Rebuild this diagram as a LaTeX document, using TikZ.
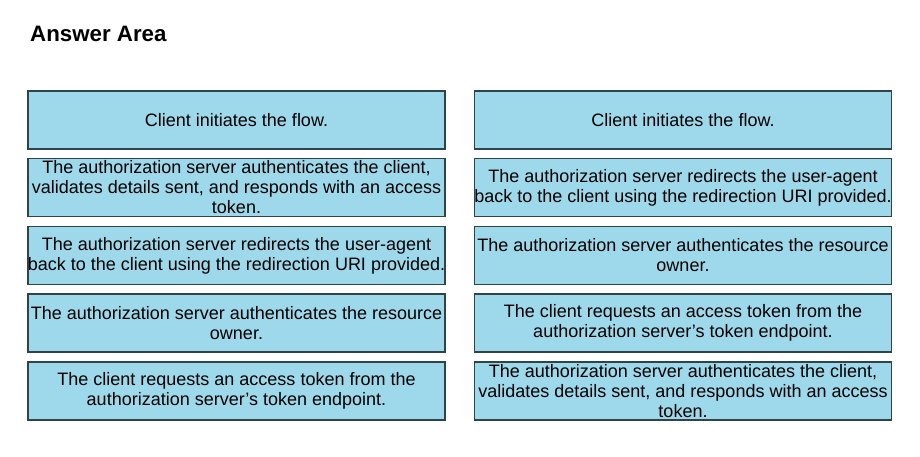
\documentclass[tikz,border=0pt]{standalone}
\usepackage{fontspec}
\setmainfont{Liberation Sans}
\definecolor{boxfill}{HTML}{9DD9EA}
\definecolor{boxline}{HTML}{2E4448}
\tikzset{
  answerbox/.style={rectangle,draw=boxline,line width=1.3pt,fill=boxfill,
    minimum width=417pt,minimum height=58pt,inner sep=0pt,align=center,
    font=\fontsize{18}{20}\selectfont},
}
\begin{document}
\begin{tikzpicture}[x=1pt,y=-1pt]
		\useasboundingbox (0,0) rectangle (920,457);
		% Titel
		\node (title) at (30,42) [anchor=base west,inner sep=0pt,font=\fontsize{22.3}{26}\selectfont\bfseries] {Answer Area};

		% linke Spalte
		\node (L1) at (236.5,120) [answerbox] {Client initiates the flow.};
		\node (L2) at (236.5,187.5) [answerbox] {The authorization server authenticates the client,\\validates details sent, and responds with an access\\token.};
		\node (L3) at (236.5,255.5) [answerbox] {The authorization server redirects the user-agent\\back to the client using the redirection URI provided.};
		\node (L4) at (236.5,323) [answerbox] {The authorization server authenticates the resource\\owner.};
		\node (L5) at (236.5,391) [answerbox] {The client requests an access token from the\\authorization server’s token endpoint.};

		% rechte Spalte
		\node (R1) at (683,120) [answerbox] {Client initiates the flow.};
		\node (R2) at (683,187.5) [answerbox] {The authorization server redirects the user-agent\\back to the client using the redirection URI provided.};
		\node (R3) at (683,255.5) [answerbox] {The authorization server authenticates the resource\\owner.};
		\node (R4) at (683,323) [answerbox] {The client requests an access token from the\\authorization server’s token endpoint.};
		\node (R5) at (683,391) [answerbox] {The authorization server authenticates the client,\\validates details sent, and responds with an access\\token.};
	\end{tikzpicture}
\end{document}
